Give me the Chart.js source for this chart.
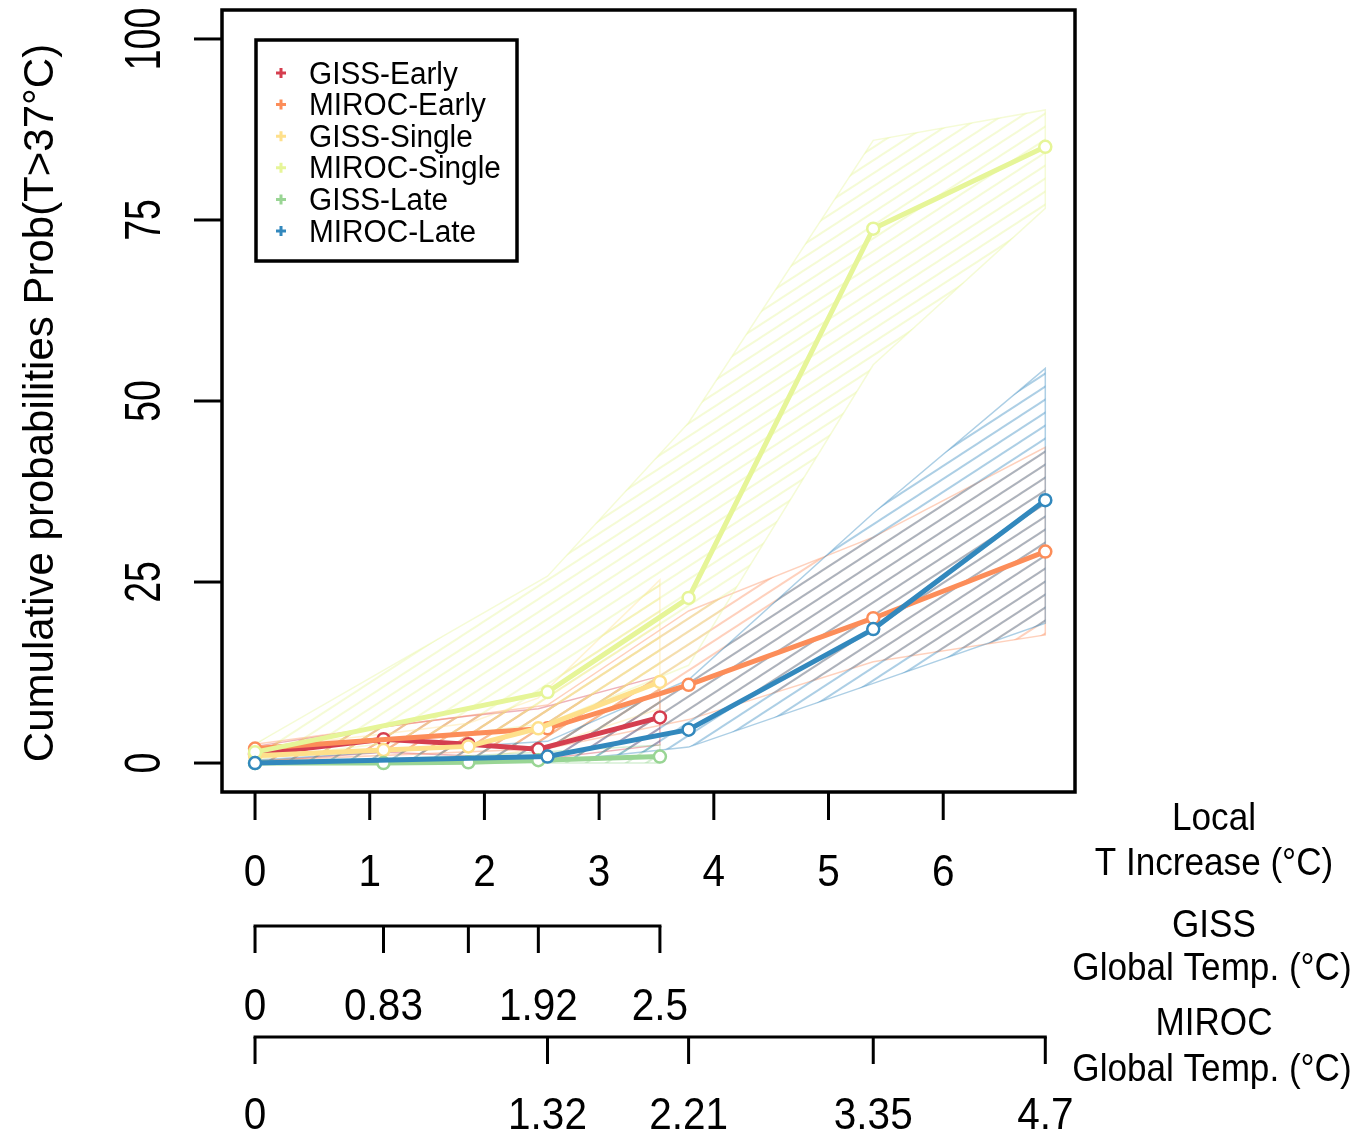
<!DOCTYPE html>
<html>
<head>
<meta charset="utf-8">
<script src="https://cdn.jsdelivr.net/npm/chart.js@4.4.1/dist/chart.umd.min.js"></script>
<style>
    html, body { margin: 0; padding: 0; background: #fff; }
    canvas { display: block; }
</style>
</head>
<body>
<canvas id="probChart" width="1356" height="1137"></canvas>
<script>
/* --- Data --- */

// Local T increase (°C) reached by each model at its global temperature steps
const gissLocalT = [0, 1.12, 1.86, 2.47, 3.53];
const mirocLocalT = [0, 2.55, 3.78, 5.39, 6.89];

// Global temperature labels under the secondary axes (one GISS label is hidden in the figure)
const gissGlobalLabels = ["0", "0.83", "", "1.92", "2.5"];
const mirocGlobalLabels = ["0", "1.32", "2.21", "3.35", "4.7"];

const localTicks = [0, 1, 2, 3, 4, 5, 6];
const probTicks = [0, 25, 50, 75, 100];

const seriesNames = ["GISS-Early", "MIROC-Early", "GISS-Single", "MIROC-Single", "GISS-Late", "MIROC-Late"];
const seriesColors = ["#D53E4F", "#FC8D59", "#FEE08B", "#E6F598", "#99D594", "#3288BD"];

// Cumulative probability Prob(T>37°C), in %
const gissEarly      = [1.2, 3.3, 2.6, 1.9, 6.3];
const gissEarlyLow   = [0.2, 1.5, 1.0, 0.5, 2.5];
const gissEarlyHigh  = [2.3, 5.0, 6.5, 7.5, 12.0];

const mirocEarly     = [2.0, 4.8, 10.8, 20.0, 29.2];
const mirocEarlyLow  = [0.3, 2.0, 6.0, 14.0, 17.7];
const mirocEarlyHigh = [2.6, 8.0, 21.0, 31.2, 43.6];

const gissSingle     = [1.0, 1.8, 2.3, 4.8, 11.2];
const gissSingleLow  = [0.2, 0.5, 0.5, 2.0, 7.5];
const gissSingleHigh = [2.0, 4.0, 5.5, 9.0, 25.3];

const mirocSingle     = [1.5, 9.8, 22.8, 73.8, 85.1];
const mirocSingleLow  = [0.5, 5.5, 13.5, 55.0, 76.6];
const mirocSingleHigh = [2.6, 25.8, 47.0, 86.0, 90.2];

const gissLate      = [0, 0, 0.1, 0.4, 0.9];
const gissLateLow   = [0, 0, 0, 0, 0];
const gissLateHigh  = [0.3, 0.6, 1.0, 1.5, 2.5];

const mirocLate     = [0, 0.9, 4.6, 18.5, 36.3];
const mirocLateLow  = [0, 0.1, 2.2, 11.0, 19.3];
const mirocLateHigh = [0.4, 3.0, 11.5, 34.5, 54.5];

const seriesX    = [gissLocalT, mirocLocalT, gissLocalT, mirocLocalT, gissLocalT, mirocLocalT];
const seriesMean = [gissEarly, mirocEarly, gissSingle, mirocSingle, gissLate, mirocLate];
const seriesLow  = [gissEarlyLow, mirocEarlyLow, gissSingleLow, mirocSingleLow, gissLateLow, mirocLateLow];
const seriesHigh = [gissEarlyHigh, mirocEarlyHigh, gissSingleHigh, mirocSingleHigh, gissLateHigh, mirocLateHigh];

/* --- Helpers --- */

const FONT = "'Liberation Sans', Arial, sans-serif";

function rgba(hex, a) {
    const n = parseInt(hex.slice(1), 16);
    return `rgba(${(n >> 16) & 255}, ${(n >> 8) & 255}, ${n & 255}, ${a})`;
}

function toPoints(xs, ys) {
    return xs.map((x, i) => ({ x, y: ys[i] }));
}

// closed polygon: upper edge left->right, lower edge right->left
function bandPoints(xs, lo, hi) {
    const up = toPoints(xs, hi);
    const down = toPoints(xs, lo).reverse();
    return up.concat(down, [up[0]]);
}

// diagonal hatching like R's polygon(density=...)
function hatchPattern(color) {
    const w = 20, h = 13;
    const c = document.createElement("canvas");
    c.width = w;
    c.height = h;
    const g = c.getContext("2d");
    g.strokeStyle = color;
    g.lineWidth = 2;
    for (let k = -1; k <= 1; k++) {
        g.beginPath();
        g.moveTo(-2, h + k * h + 2 * h / w);
        g.lineTo(w + 2, k * h - 2 * h / w);
        g.stroke();
    }
    return c.getContext("2d").createPattern(c, "repeat");
}

function drawText(ctx, text, x, y, size, scaleX, rotate, align) {
    ctx.save();
    ctx.translate(x, y);
    if (rotate) ctx.rotate(rotate);
    ctx.scale(scaleX, 1);
    ctx.font = `${size}px ${FONT}`;
    ctx.textAlign = align || "center";
    ctx.textBaseline = "middle";
    ctx.fillText(text, 0, 0);
    ctx.restore();
}

/* --- Datasets --- */

const datasets = [];

seriesNames.forEach((name, i) => {
    datasets.push({
        label: name + " range",
        data: bandPoints(seriesX[i], seriesLow[i], seriesHigh[i]),
        showLine: true,
        fill: "shape",
        backgroundColor: hatchPattern(rgba(seriesColors[i], 0.4)),
        borderColor: rgba(seriesColors[i], 0.4),
        borderWidth: 1.5,
        pointRadius: 0,
        order: 20 - i
    });
});

seriesNames.forEach((name, i) => {
    datasets.push({
        label: name,
        data: toPoints(seriesX[i], seriesMean[i]),
        showLine: true,
        fill: false,
        borderColor: seriesColors[i],
        borderWidth: 5,
        pointRadius: 6,
        pointBackgroundColor: "#fff",
        pointBorderColor: seriesColors[i],
        pointBorderWidth: 2.5,
        order: 5 - i
    });
});

/* --- Axes, box, labels and legend drawn R-style --- */

const rAxesPlugin = {
    id: "rAxes",
    afterDraw(chart) {
        const ctx = chart.ctx;
        const xs = chart.scales.x;
        const ys = chart.scales.y;
        const area = chart.chartArea;

        ctx.save();
        ctx.strokeStyle = "#000";
        ctx.fillStyle = "#000";
        ctx.lineCap = "butt";

        // plot box
        ctx.lineWidth = 3.5;
        ctx.strokeRect(area.left, area.top, area.right - area.left, area.bottom - area.top);

        // y axis ticks and rotated labels
        ctx.lineWidth = 3;
        probTicks.forEach(v => {
            const py = ys.getPixelForValue(v);
            ctx.beginPath();
            ctx.moveTo(area.left, py);
            ctx.lineTo(area.left - 28, py);
            ctx.stroke();
            drawText(ctx, String(v), 146, py, 50, 0.75, -Math.PI / 2);
        });
        drawText(ctx, "Cumulative probabilities Prob(T>37°C)", 41, 403, 42, 1, -Math.PI / 2);

        // local T axis
        localTicks.forEach(v => {
            const px = xs.getPixelForValue(v);
            ctx.beginPath();
            ctx.moveTo(px, area.bottom);
            ctx.lineTo(px, area.bottom + 28);
            ctx.stroke();
            drawText(ctx, String(v), px, 874, 45, 0.9);
        });

        // secondary axes: GISS and MIROC global temperature
        const secondary = [
            { pos: gissLocalT, labels: gissGlobalLabels, lineY: 926, labelY: 1008 },
            { pos: mirocLocalT, labels: mirocGlobalLabels, lineY: 1037, labelY: 1117 }
        ];
        secondary.forEach(ax => {
            const x0 = xs.getPixelForValue(ax.pos[0]);
            const x1 = xs.getPixelForValue(ax.pos[ax.pos.length - 1]);
            ctx.beginPath();
            ctx.moveTo(x0 - 1.5, ax.lineY);
            ctx.lineTo(x1 + 1.5, ax.lineY);
            ctx.stroke();
            ax.pos.forEach((v, i) => {
                const px = xs.getPixelForValue(v);
                ctx.beginPath();
                ctx.moveTo(px, ax.lineY);
                ctx.lineTo(px, ax.lineY + 27);
                ctx.stroke();
                if (ax.labels[i]) drawText(ctx, ax.labels[i], px, ax.labelY, 45, 0.9);
            });
        });

        // axis titles on the right
        drawText(ctx, "Local", 1214, 819, 39, 0.9);
        drawText(ctx, "T Increase (°C)", 1214, 864, 39, 0.9);
        drawText(ctx, "GISS", 1214, 926, 39, 0.9);
        drawText(ctx, "Global Temp. (°C)", 1212, 969, 39, 0.9);
        drawText(ctx, "MIROC", 1214, 1024, 39, 0.9);
        drawText(ctx, "Global Temp. (°C)", 1212, 1070, 39, 0.9);

        // legend
        ctx.fillStyle = "#fff";
        ctx.fillRect(256, 40, 261, 221);
        ctx.lineWidth = 3.5;
        ctx.strokeRect(256, 40, 261, 221);
        seriesNames.forEach((name, i) => {
            const ry = 75 + i * 31.6;
            ctx.strokeStyle = seriesColors[i];
            ctx.lineWidth = 3;
            ctx.beginPath();
            ctx.moveTo(276, ry - 2);
            ctx.lineTo(286, ry - 2);
            ctx.moveTo(281, ry - 7);
            ctx.lineTo(281, ry + 3);
            ctx.stroke();
            ctx.fillStyle = "#000";
            drawText(ctx, name, 309, ry, 31, 0.96, 0, "left");
        });

        ctx.restore();
    }
};

/* --- Chart --- */

new Chart(document.getElementById("probChart"), {
    type: "scatter",
    data: { datasets },
    options: {
        responsive: false,
        animation: false,
        events: [],
        layout: { padding: { left: 222, right: 281, top: 10, bottom: 345 } },
        plugins: {
            legend: { display: false },
            tooltip: { enabled: false }
        },
        scales: {
            x: { type: "linear", min: -0.288, max: 7.149, display: false },
            y: { type: "linear", min: -4, max: 104, display: false }
        }
    },
    plugins: [rAxesPlugin]
});
</script>
</body>
</html>
